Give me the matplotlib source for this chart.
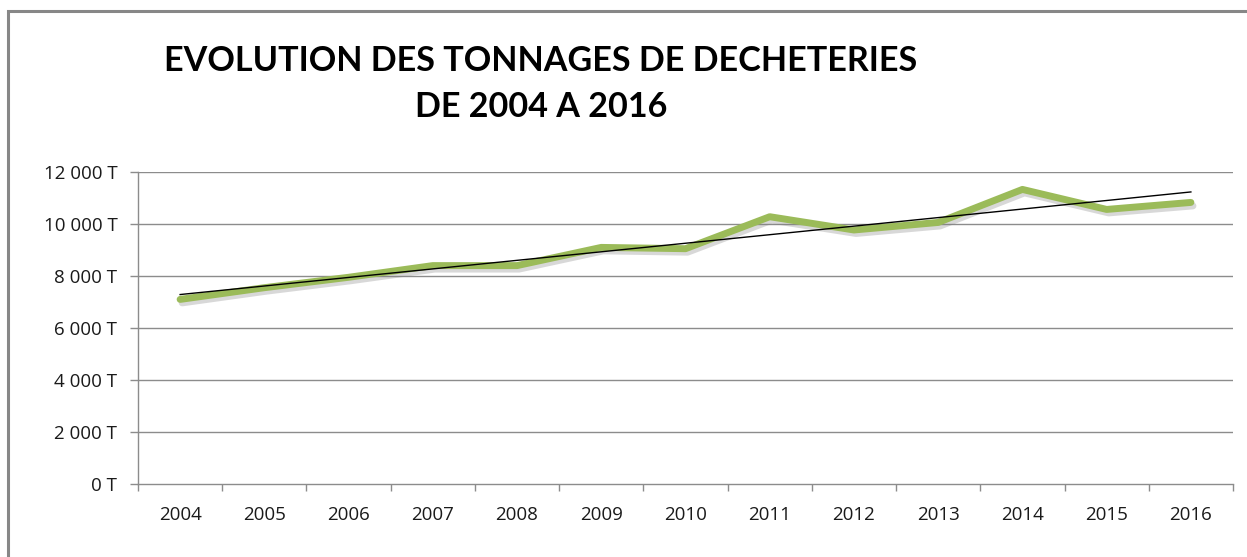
import matplotlib
matplotlib.use("Agg")
import matplotlib.pyplot as plt
import matplotlib.patheffects as pe
from matplotlib.ticker import FixedLocator, NullFormatter, FixedFormatter
import numpy as np

years = ["2004", "2005", "2006", "2007", "2008", "2009", "2010",
         "2011", "2012", "2013", "2014", "2015", "2016"]
tonnages = [7100, 7550, 7950, 8400, 8400, 9100, 9050,
            10280, 9770, 10060, 11330, 10560, 10830]
y_ticks = [0, 2000, 4000, 6000, 8000, 10000, 12000]
y_labels = ["0 T", "2 000 T", "4 000 T", "6 000 T", "8 000 T", "10 000 T", "12 000 T"]
title_l1 = "EVOLUTION DES TONNAGES DE DECHETERIES"
title_l2 = "DE 2004 A 2016"

W, H = 1247, 557
fig = plt.figure(figsize=(W / 100, H / 100), dpi=100)
fig.patch.set_facecolor("white")

# outer chart border (top and left visible)
border = plt.Rectangle((8 / W, -0.1), 1.2, 1 - 11 / H + 0.1, transform=fig.transFigure,
                       fill=False, edgecolor="#878787", linewidth=2.2)
fig.add_artist(border)

ax = fig.add_axes([138 / W, 1 - 484 / H, (1233 - 138) / W, (484 - 172) / H])
x = np.arange(len(years))

grid_c = "#8c8c8c"
for v in y_ticks[1:]:
    ax.axhline(v, color=grid_c, linewidth=1.0, zorder=1)

ax.plot(x, tonnages, color="#9BBB59", linewidth=5.0, solid_capstyle="round",
        solid_joinstyle="round", zorder=3,
        path_effects=[pe.SimpleLineShadow(offset=(1.5, -2.5), shadow_color="#7f7f7f", alpha=0.3),
                      pe.Normal()])

coef = np.polyfit(x, tonnages, 1)
trend = np.polyval(coef, x)
ax.plot(x, trend, color="black", linewidth=1.0, zorder=4)

ax.set_xlim(-0.5, len(years) - 0.5)
ax.set_ylim(0, 12000)

ax.xaxis.set_major_locator(FixedLocator(np.arange(-0.5, len(years), 1.0)))
ax.xaxis.set_major_formatter(NullFormatter())
ax.xaxis.set_minor_locator(FixedLocator(x))
ax.xaxis.set_minor_formatter(FixedFormatter(years))
ax.tick_params(axis="x", which="major", length=5, width=1, color=grid_c, direction="out")
ax.tick_params(axis="x", which="minor", length=0, pad=16, labelsize=13.5, labelcolor="#1a1a1a")

ax.yaxis.set_major_locator(FixedLocator(y_ticks))
ax.yaxis.set_major_formatter(FixedFormatter(y_labels))
ax.tick_params(axis="y", length=5.8, width=1, color=grid_c, direction="out", pad=9,
               labelsize=13.5, labelcolor="#1a1a1a")

for lab in ax.get_xticklabels(minor=True) + ax.get_yticklabels():
    lab.set_fontfamily("Open Sans")

for s in ["top", "right"]:
    ax.spines[s].set_visible(False)
for s in ["left", "bottom"]:
    ax.spines[s].set_color(grid_c)
    ax.spines[s].set_linewidth(1.0)

fig.text(541 / W, 1 - 61 / H, title_l1, ha="center", va="center", fontsize=24.6,
         fontweight="bold", family="Lato", color="black")
fig.text(541 / W, 1 - 107 / H, title_l2, ha="center", va="center", fontsize=24.6,
         fontweight="bold", family="Lato", color="black")

fig.savefig("out.png", dpi=100, facecolor="white")
